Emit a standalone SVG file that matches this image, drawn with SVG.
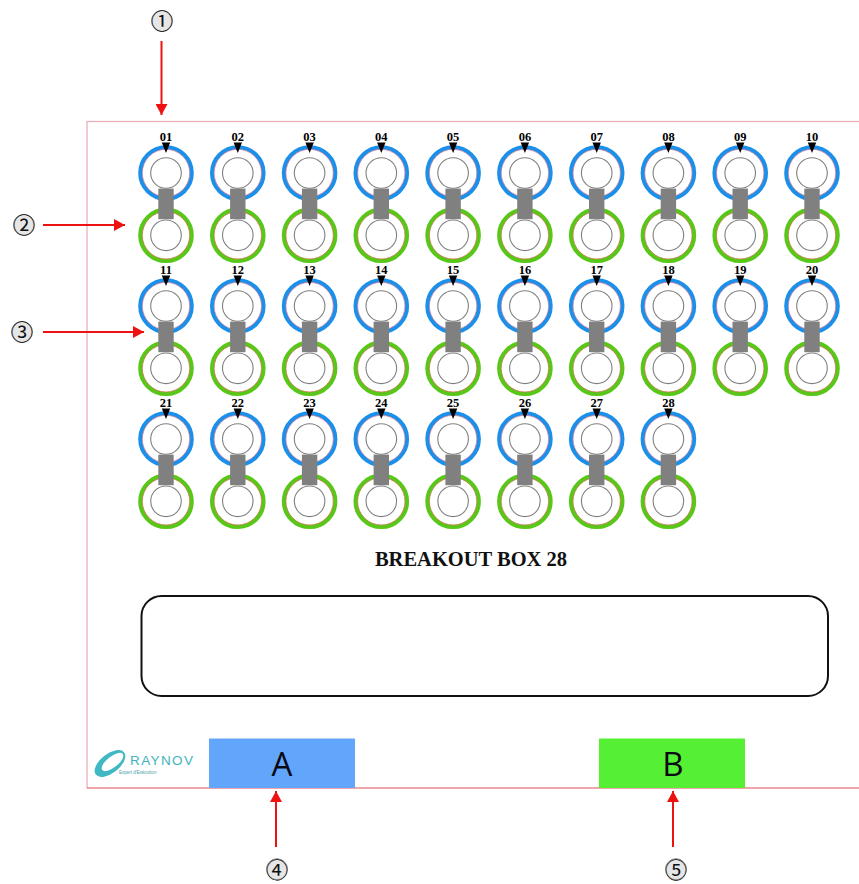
<svg xmlns="http://www.w3.org/2000/svg" width="859" height="884" viewBox="0 0 859 884">
<style>
.num{font:bold 12.500px "Liberation Serif",serif;text-anchor:middle;fill:#000}
.co{font:22px "Noto Sans CJK SC",sans-serif;text-anchor:middle;fill:#111}
.cb{fill:#e6e6e6;stroke:#8c8c8c;stroke-width:1}
.ar{stroke:#ee1111;stroke-width:2;fill:none;marker-end:url(#ah)}
.big{font:33px "Open Sans","DejaVu Sans",sans-serif;text-anchor:middle;fill:#0a0a14}
</style>
<defs>
<marker id="ah" markerUnits="userSpaceOnUse" markerWidth="12" markerHeight="12" refX="11" refY="6" orient="auto"><path d="M0 0L11 6L0 12z" fill="#ee1111"/></marker>
<g id="pin">
<circle cx="0" cy="0" r="25.6" fill="#fff" stroke="#1a90ea" stroke-width="4.400"/>
<circle cx="0" cy="0" r="23.700" fill="#fff" stroke="#c97fa0" stroke-width=".8"/>
<circle cx="0" cy="0" r="15.3" fill="#fff" stroke="#808080" stroke-width="1.100"/>
<circle cx="0" cy="62.3" r="25.6" fill="#fff" stroke="#58c818" stroke-width="4.400"/>
<circle cx="0" cy="62.3" r="23.700" fill="#fff" stroke="#c8764a" stroke-width=".8"/>
<circle cx="0" cy="62.3" r="15.3" fill="#fff" stroke="#808080" stroke-width="1.100"/>
<rect x="-7.7" y="15.6" width="15.4" height="30.6" fill="#808080"/>
<path d="M-4.200 -30.500H4.200L0 -20z" fill="#000"/>
</g>
</defs>
<rect id="panel" x="87" y="121.5" width="790" height="666.5" fill="#fff" stroke="#e8b0ba" stroke-width="1.300"/>
<line x1="87" y1="788" x2="859" y2="788" stroke="#f08080" stroke-width="1"/>
<g id="pins">
<g id="pin01"><use href="#pin" x="166" y="173"/><text class="num" x="166" y="141">01</text></g>
<g id="pin02"><use href="#pin" x="237.8" y="173"/><text class="num" x="237.8" y="141">02</text></g>
<g id="pin03"><use href="#pin" x="309.6" y="173"/><text class="num" x="309.6" y="141">03</text></g>
<g id="pin04"><use href="#pin" x="381.3" y="173"/><text class="num" x="381.3" y="141">04</text></g>
<g id="pin05"><use href="#pin" x="453.1" y="173"/><text class="num" x="453.1" y="141">05</text></g>
<g id="pin06"><use href="#pin" x="524.9" y="173"/><text class="num" x="524.9" y="141">06</text></g>
<g id="pin07"><use href="#pin" x="596.7" y="173"/><text class="num" x="596.7" y="141">07</text></g>
<g id="pin08"><use href="#pin" x="668.4" y="173"/><text class="num" x="668.4" y="141">08</text></g>
<g id="pin09"><use href="#pin" x="740.2" y="173"/><text class="num" x="740.2" y="141">09</text></g>
<g id="pin10"><use href="#pin" x="812" y="173"/><text class="num" x="812" y="141">10</text></g>
<g id="pin11"><use href="#pin" x="166" y="306"/><text class="num" x="166" y="274">11</text></g>
<g id="pin12"><use href="#pin" x="237.8" y="306"/><text class="num" x="237.8" y="274">12</text></g>
<g id="pin13"><use href="#pin" x="309.6" y="306"/><text class="num" x="309.6" y="274">13</text></g>
<g id="pin14"><use href="#pin" x="381.3" y="306"/><text class="num" x="381.3" y="274">14</text></g>
<g id="pin15"><use href="#pin" x="453.1" y="306"/><text class="num" x="453.1" y="274">15</text></g>
<g id="pin16"><use href="#pin" x="524.9" y="306"/><text class="num" x="524.9" y="274">16</text></g>
<g id="pin17"><use href="#pin" x="596.7" y="306"/><text class="num" x="596.7" y="274">17</text></g>
<g id="pin18"><use href="#pin" x="668.4" y="306"/><text class="num" x="668.4" y="274">18</text></g>
<g id="pin19"><use href="#pin" x="740.2" y="306"/><text class="num" x="740.2" y="274">19</text></g>
<g id="pin20"><use href="#pin" x="812" y="306"/><text class="num" x="812" y="274">20</text></g>
<g id="pin21"><use href="#pin" x="166" y="439"/><text class="num" x="166" y="407">21</text></g>
<g id="pin22"><use href="#pin" x="237.8" y="439"/><text class="num" x="237.8" y="407">22</text></g>
<g id="pin23"><use href="#pin" x="309.6" y="439"/><text class="num" x="309.6" y="407">23</text></g>
<g id="pin24"><use href="#pin" x="381.3" y="439"/><text class="num" x="381.3" y="407">24</text></g>
<g id="pin25"><use href="#pin" x="453.1" y="439"/><text class="num" x="453.1" y="407">25</text></g>
<g id="pin26"><use href="#pin" x="524.9" y="439"/><text class="num" x="524.9" y="407">26</text></g>
<g id="pin27"><use href="#pin" x="596.7" y="439"/><text class="num" x="596.7" y="407">27</text></g>
<g id="pin28"><use href="#pin" x="668.4" y="439"/><text class="num" x="668.4" y="407">28</text></g>
</g>
<text id="title" x="471" y="566" font-family="Liberation Serif, serif" font-weight="bold" font-size="20.500" text-anchor="middle" fill="#111">BREAKOUT BOX 28</text>
<rect id="display" x="141.5" y="596" width="686.5" height="100" rx="20" fill="#fff" stroke="#111" stroke-width="2"/>
<g id="connA"><rect x="209" y="738.500" width="146" height="49.500" fill="#62a6fb"/><text class="big" x="282" y="776">A</text></g>
<g id="connB"><rect x="599" y="738.500" width="146" height="49.500" fill="#55ef33"/><text class="big" x="673" y="776">B</text></g>
<g id="logo">
<ellipse cx="110" cy="763.500" rx="18" ry="9.500" transform="rotate(-38 110 763.500)" fill="#3fb8c4"/>
<ellipse cx="112.500" cy="762" rx="13" ry="5.500" transform="rotate(-38 112.500 762)" fill="#fff"/>
<text x="130" y="765" font-family="Liberation Sans, sans-serif" font-size="13.500" letter-spacing="1.400" fill="#3fb3bd">RAYNOV</text>
<text x="119" y="773.500" font-family="Liberation Sans, sans-serif" font-size="4.500" fill="#3f9ea8">Expert d'Exécution</text>
</g>
<g id="callouts">
<circle class="cb" cx="162" cy="21" r="10.500"/><text class="co" x="162" y="29.400">①</text>
<circle class="cb" cx="24" cy="225" r="10.500"/><text class="co" x="24" y="233.400">②</text>
<circle class="cb" cx="22" cy="332" r="10.500"/><text class="co" x="22" y="340.400">③</text>
<circle class="cb" cx="277" cy="869.200" r="10.500"/><text class="co" x="277" y="877.600">④</text>
<circle class="cb" cx="676" cy="869.200" r="10.500"/><text class="co" x="676" y="877.600">⑤</text>
</g>
<g id="connectors">
<line class="ar" x1="161.500" y1="41" x2="161.500" y2="115"/>
<line class="ar" x1="43" y1="225" x2="125" y2="225"/>
<line class="ar" x1="43" y1="332" x2="144" y2="332"/>
<line class="ar" x1="276" y1="847" x2="276" y2="791"/>
<line class="ar" x1="673" y1="847" x2="673" y2="791"/>
</g>
</svg>
